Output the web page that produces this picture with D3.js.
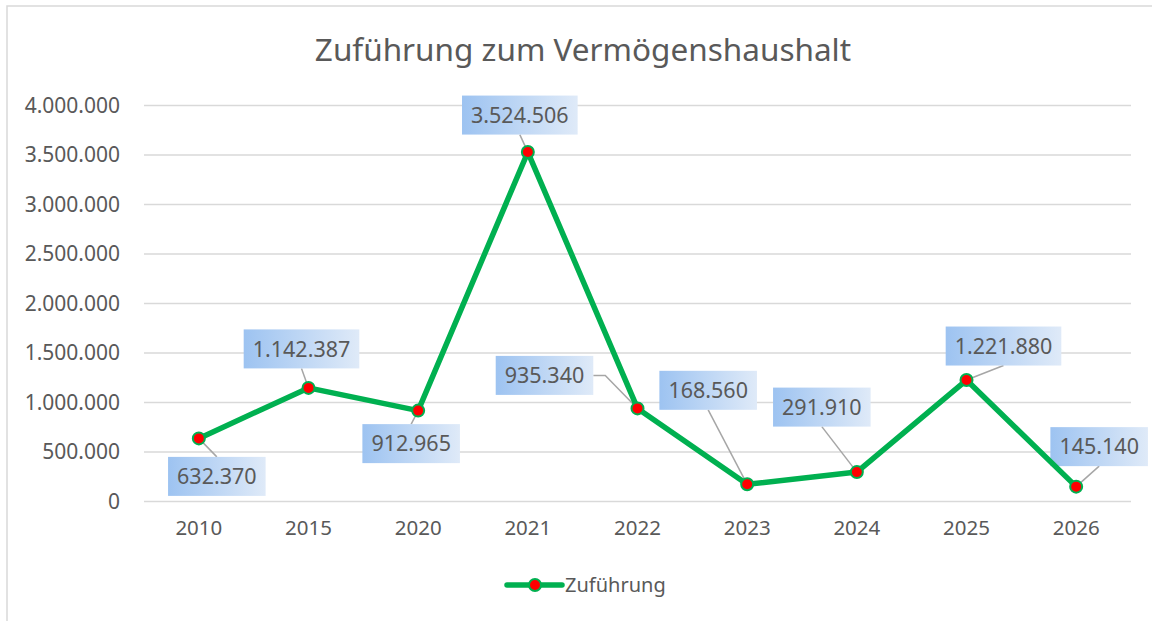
<!DOCTYPE html>
<html>
<head>
<meta charset="utf-8">
<script src="https://cdn.jsdelivr.net/npm/d3@7"></script>
<style>
  body { margin: 0; background: #fff; }
  text { font-family: "Noto Sans", sans-serif; fill: #595959; }
</style>
</head>
<body>
<div id="chart"></div>
<script>
const years = ['2010', '2015', '2020', '2021', '2022', '2023', '2024', '2025', '2026'];
const values = [632370, 1142387, 912965, 3524506, 935340, 168560, 291910, 1221880, 145140];
const yTicks = [0, 500000, 1000000, 1500000, 2000000, 2500000, 3000000, 3500000, 4000000];
// where each data label sits, relative to its point (Excel moved them by hand)
const labelShift = [[18, 38], [-7, -39], [-7, 33], [-8, -37], [-93, -33], [-39, -94], [-35, -65], [37, -34], [23, -40]];

const W = 1152, H = 621;
const fmt = v => d3.format(',')(v).replace(/,/g, '.');

const svg = d3.select('#chart').append('svg')
    .attr('width', W)
    .attr('height', H);

const defs = svg.append('defs');
const grad = defs.append('linearGradient').attr('id', 'lblGrad')
    .attr('x1', '0%').attr('x2', '100%').attr('y1', '0%').attr('y2', '0%');
grad.append('stop').attr('offset', '0%').attr('stop-color', '#9dc3f1');
grad.append('stop').attr('offset', '100%').attr('stop-color', '#dfeaf8');

// chart frame (right / bottom edges are cut off in the original)
svg.append('rect')
    .attr('x', 7).attr('y', 6)
    .attr('width', W + 20).attr('height', H + 20)
    .attr('fill', 'none')
    .attr('stroke', '#d9d9d9')
    .attr('stroke-width', 1.5);

svg.append('text')
    .attr('x', 583).attr('y', 61)
    .attr('text-anchor', 'middle')
    .style('font-size', '31.5px')
    .text('Zuführung zum Vermögenshaushalt');

const x = d3.scaleBand().domain(years).range([144, 1131]);
const y = d3.scaleLinear().domain([0, 4000000]).range([501, 105]);

// gridlines + y labels
const yAxis = d3.axisLeft(y).tickValues(yTicks).tickSize(-(1131 - 144)).tickFormat(fmt).tickPadding(24);
const gy = svg.append('g').attr('transform', 'translate(144,0)').call(yAxis);
gy.select('.domain').remove();
gy.selectAll('.tick line').attr('stroke', '#d9d9d9').attr('stroke-width', 1.5);
gy.selectAll('.tick text').style('font-size', '21px').attr('fill', '#595959').attr('dy', '0.35em');

const xAxis = d3.axisBottom(x).tickSize(0).tickPadding(19);
const gx = svg.append('g').attr('transform', 'translate(0,501)').call(xAxis);
gx.select('.domain').remove();
gx.selectAll('.tick text').style('font-size', '20.5px').attr('fill', '#595959');

const pts = years.map((yr, i) => ({
    px: x(yr) + x.bandwidth() / 2,
    py: y(values[i]),
    v: values[i],
    dx: labelShift[i][0],
    dy: labelShift[i][1]
}));

// leader lines + label boxes
const lbl = svg.append('g');
pts.forEach(p => {
    const t = lbl.append('text')
        .attr('x', p.px + p.dx).attr('y', p.py + p.dy)
        .attr('text-anchor', 'middle')
        .attr('dy', '0.36em')
        .style('font-size', '21.5px')
        .attr('fill', '#404040')
        .text(fmt(p.v));
    const bw = t.node().getComputedTextLength() + 18, bh = 39;
    const cx = p.px + p.dx, cy = p.py + p.dy;
    let path;
    if (Math.abs(p.dx) > bw / 2) {
        const ex = p.dx < 0 ? cx + bw / 2 : cx - bw / 2;
        const kx = ex + (p.dx < 0 ? 12 : -12);
        path = [[ex, cy], [kx, cy], [p.px, p.py]];
    } else {
        const ey = p.dy < 0 ? cy + bh / 2 : cy - bh / 2;
        path = [[cx, ey], [p.px, p.py]];
    }
    lbl.insert('path', 'text')
        .attr('d', d3.line()(path))
        .attr('fill', 'none')
        .attr('stroke', '#a6a6a6')
        .attr('stroke-width', 1.5);
    lbl.insert('rect', 'text')
        .attr('x', cx - bw / 2).attr('y', cy - bh / 2)
        .attr('width', bw).attr('height', bh)
        .attr('fill', 'url(#lblGrad)');
});

// series line and markers
const line = d3.line().x(d => d.px).y(d => d.py);
svg.append('path')
    .datum(pts)
    .attr('d', line)
    .attr('fill', 'none')
    .attr('stroke', '#00b050')
    .attr('stroke-width', 5.5)
    .attr('stroke-linejoin', 'round');

svg.selectAll('.dot').data(pts).enter().append('circle')
    .attr('cx', d => d.px).attr('cy', d => d.py)
    .attr('r', 6)
    .attr('fill', '#ff0000')
    .attr('stroke', '#00b050')
    .attr('stroke-width', 2);

// legend
const lg = svg.append('g');
lg.append('line').attr('x1', 507).attr('x2', 562).attr('y1', 585).attr('y2', 585)
    .attr('stroke', '#00b050').attr('stroke-width', 5.5).attr('stroke-linecap', 'round');
lg.append('circle').attr('cx', 535).attr('cy', 585).attr('r', 6)
    .attr('fill', '#ff0000').attr('stroke', '#00b050').attr('stroke-width', 2);
lg.append('text').attr('x', 565).attr('y', 585).attr('dy', '0.35em')
    .style('font-size', '20px').text('Zuführung');
</script>
</body>
</html>
